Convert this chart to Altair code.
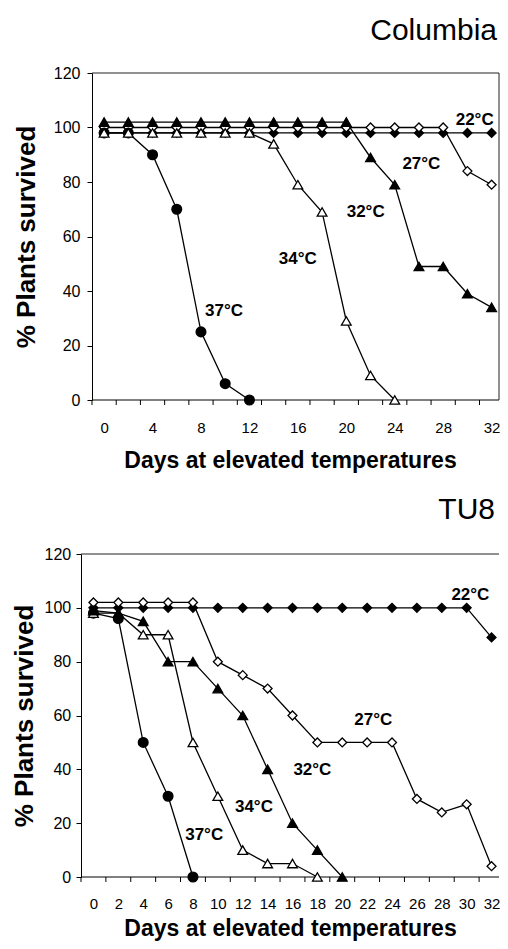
import altair as alt
import pandas as pd

FONT = "Liberation Sans"

days = [0, 2, 4, 6, 8, 10, 12, 14, 16, 18, 20, 22, 24, 26, 28, 30, 32]
between_days = [-1, 1, 3, 5, 7, 9, 11, 13, 15, 17, 19, 21, 23, 25, 27, 29, 31]

# Columbia
col_22 = [98, 98, 98, 98, 98, 98, 98, 98, 98, 98, 98, 98, 98, 98, 98, 98, 98]
col_27 = [100, 100, 100, 100, 100, 100, 100, 100, 100, 100, 100, 100, 100, 100, 100, 84, 79]
col_32 = [102, 102, 102, 102, 102, 102, 102, 102, 102, 102, 102, 89, 79, 49, 49, 39, 34]
col_34 = [98, 98, 98, 98, 98, 98, 98, 94, 79, 69, 29, 9, 0]
col_37 = [98, 98, 90, 70, 25, 6, 0]

# TU8
tu_22 = [100, 100, 100, 100, 100, 100, 100, 100, 100, 100, 100, 100, 100, 100, 100, 100, 89]
tu_27 = [102, 102, 102, 102, 102, 80, 75, 70, 60, 50, 50, 50, 50, 29, 24, 27, 4]
tu_32 = [99, 98, 95, 80, 80, 70, 60, 40, 20, 10, 0]
tu_34 = [98, 98, 90, 90, 50, 30, 10, 5, 5, 0]
tu_37 = [98, 96, 50, 30, 0]

temps = ["22°C", "27°C", "32°C", "34°C", "37°C"]
panel_names = ["Columbia", "TU8"]

# label anchors (day, % survived)
col_label_day = [30.6, 26.2, 21.6, 16.0, 9.9]
col_label_val = [102.7, 86.6, 69.1, 51.6, 32.7]
tu_label_day = [30.3, 22.5, 17.6, 12.9, 8.9]
tu_label_val = [104.6, 58.2, 39.7, 26.1, 15.6]

x_top_labels = [0, 4, 8, 12, 16, 20, 24, 28, 32]
x_bottom_labels = [0, 2, 4, 6, 8, 10, 12, 14, 16, 18, 20, 22, 24, 26, 28, 30, 32]
y_labels = [0, 20, 40, 60, 80, 100, 120]

styles = {
    "22°C": dict(shape="diamond", fill="black", size=80),
    "27°C": dict(shape="diamond", fill="white", size=80),
    "37°C": dict(shape="circle", fill="black", size=95),
    "34°C": dict(shape="triangle-up", fill="white", size=95),
    "32°C": dict(shape="triangle-up", fill="black", size=95),
}
draw_order = ["22°C", "27°C", "37°C", "34°C", "32°C"]


def panel(series, lab_day, lab_val, width, height, xdomain, xlabels,
          yoffset, ylab_pad, ytitle_pad, xlab_pad, xtitle_pad,
          right_border, names=None):
    x_enc = alt.X(
        "day:Q",
        scale=alt.Scale(domain=xdomain, nice=False, zero=False),
        axis=alt.Axis(
            values=xlabels, ticks=False, tickSize=0, grid=False, domain=False,
            labelFontSize=15, labelPadding=xlab_pad, labelColor="black",
            labelFont=FONT, labelFlush=False, labelOverlap=False,
            title="Days at elevated temperatures", titleFont=FONT,
            titleFontSize=23, titleFontWeight="bold", titleColor="black",
            titlePadding=xtitle_pad,
        ),
    )
    y_enc = alt.Y(
        "value:Q",
        scale=alt.Scale(domain=[0, 120], nice=False, zero=False),
        axis=alt.Axis(
            values=y_labels, tickSize=5, tickColor="black", grid=False,
            domainColor="black", labelFontSize=16, labelPadding=ylab_pad,
            labelColor="black", labelFont=FONT, offset=yoffset,
            title="% Plants survived", titleFont=FONT, titleFontSize=26,
            titleFontWeight="bold", titleColor="black", titlePadding=ytitle_pad,
        ),
    )
    layers = []
    ticks_df = pd.DataFrame({"day": between_days})
    left_edge = pd.DataFrame({"day": [-1]})
    # category tick marks and frame lines
    layers.append(
        alt.Chart(ticks_df).mark_rule(color="black", strokeWidth=1).encode(
            x=x_enc, y=alt.value(height), y2=alt.value(height + 5)
        )
    )
    layers.append(
        alt.Chart(left_edge).mark_rule(color="black", strokeWidth=1).encode(
            x=x_enc, x2=alt.value(width), y=alt.value(height)
        )
    )
    layers.append(
        alt.Chart(left_edge).mark_rule(color="#222", strokeWidth=1).encode(
            x=x_enc, x2=alt.value(width), y=alt.value(0)
        )
    )
    if right_border:
        layers.append(
            alt.Chart(left_edge).mark_rule(color="#222", strokeWidth=1).encode(
                x=alt.value(width), y=alt.value(0), y2=alt.value(height)
            )
        )
    for t in draw_order:
        vals = series[t]
        df = pd.DataFrame({"day": days[: len(vals)], "value": vals})
        st = styles[t]
        base = alt.Chart(df)
        layers.append(
            base.mark_line(color="black", strokeWidth=1.3).encode(x=x_enc, y=y_enc)
        )
        layers.append(
            base.mark_point(
                shape=st["shape"], filled=True, fill=st["fill"], stroke="black",
                strokeWidth=1.3, size=st["size"], opacity=1,
            ).encode(x=x_enc, y=y_enc)
        )
    lab_df = pd.DataFrame({"day": lab_day, "value": lab_val, "label": temps})
    layers.append(
        alt.Chart(lab_df).mark_text(
            font=FONT, fontSize=17, fontWeight="bold", color="black",
            align="center", baseline="middle",
        ).encode(x=x_enc, y=y_enc, text="label:N")
    )
    if names is not None:
        # panel names: (text, right offset from plot right, baseline y from plot top)
        for name, right_off, base_y in names:
            name_df = pd.DataFrame({"name": [name]})
            layers.append(
                alt.Chart(name_df).mark_text(
                    font=FONT, fontSize=30, fontWeight="normal", color="black",
                    align="right", baseline="alphabetic",
                ).encode(
                    x=alt.value(width - right_off), y=alt.value(base_y),
                    text="name:N",
                )
            )
    return alt.layer(*layers).properties(width=width, height=height)


top = panel(
    {"22°C": col_22, "27°C": col_27, "32°C": col_32, "34°C": col_34, "37°C": col_37},
    col_label_day, col_label_val, 418, 327, [-1.908, 32.61], x_top_labels,
    yoffset=-11, ylab_pad=7, ytitle_pad=13.5, xlab_pad=20, xtitle_pad=14.5,
    right_border=True,
    names=[(panel_names[0], 2, -33.5), (panel_names[1], 4, 446)],
)
bottom = panel(
    {"22°C": tu_22, "27°C": tu_27, "32°C": tu_32, "34°C": tu_34, "37°C": tu_37},
    tu_label_day, tu_label_val, 418, 323, [-1, 32.6], x_bottom_labels,
    yoffset=0, ylab_pad=5.3, ytitle_pad=6.7, xlab_pad=19.5, xtitle_pad=6,
    right_border=False,
)

chart = alt.vconcat(top, bottom, spacing=21).properties(
    padding={"left": 3, "top": 7, "right": 0, "bottom": 0},
    background="white",
).configure_view(stroke=None)

chart.save("out.html", embed_options={"renderer": "svg", "actions": False})
